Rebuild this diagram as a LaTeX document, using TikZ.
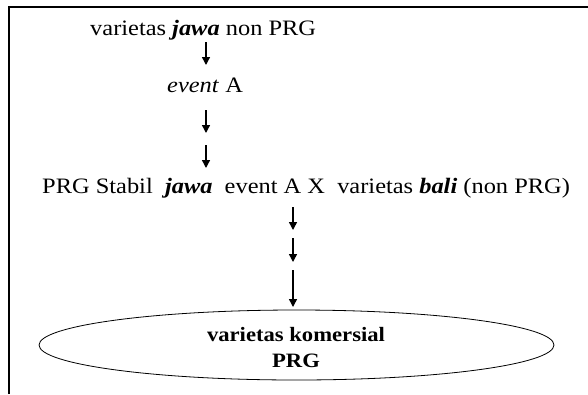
\documentclass[tikz,border=0pt]{standalone}
\usepackage{fontspec}
\setmainfont[FakeStretch=1.11]{Liberation Serif}
\usetikzlibrary{arrows.meta,shapes.geometric}
\begin{document}
\begin{tikzpicture}[x=1pt,y=-1pt,
  txt/.style={anchor=base west,inner sep=0pt,font=\fontsize{22}{24}\selectfont},
  btxt/.style={anchor=base,inner sep=0pt,font=\fontsize{20.4}{24}\selectfont\bfseries},
  arr/.style={line width=1.4pt,-{Triangle[length=8pt,width=8pt]}},
  frame/.style={line width=1.6pt}]
\useasboundingbox (0,0) rectangle (588,394);
\coordinate (fl) at (9,394);
\coordinate (ftl) at (9,7);
\coordinate (ftr) at (588,7);
\draw[frame] (fl) -- (ftl) -- (ftr);
\node[txt] (t1) at (90,35) {varietas \textbf{\textit{jawa}} non PRG};
\node[txt] (t2) at (167,92) {\textit{event} A};
\node[txt] (t3) at (42,193) {PRG Stabil \ \textbf{\textit{jawa}} \ event A X \ varietas \textbf{\textit{bali}} (non PRG)};
\node[draw,ellipse,line width=0.8pt,minimum width=515pt,minimum height=70pt,inner sep=0pt] (el) at (296.5,345) {};
\node[btxt] (e1) at (296,341) {varietas komersial};
\node[btxt] (e2) at (296,367) {PRG};
\coordinate (a1s) at (206,42); \coordinate (a1e) at (206,65);
\coordinate (a2s) at (206,110); \coordinate (a2e) at (206,133);
\coordinate (a3s) at (206,145); \coordinate (a3e) at (206,168);
\coordinate (a4s) at (293,207); \coordinate (a4e) at (293,230);
\coordinate (a5s) at (293,238); \coordinate (a5e) at (293,262);
\coordinate (a6s) at (293,270); \coordinate (a6e) at (293,307);
\draw[arr] (a1s) -- (a1e);
\draw[arr] (a2s) -- (a2e);
\draw[arr] (a3s) -- (a3e);
\draw[arr] (a4s) -- (a4e);
\draw[arr] (a5s) -- (a5e);
\draw[arr] (a6s) -- (a6e);
\end{tikzpicture}
\end{document}
